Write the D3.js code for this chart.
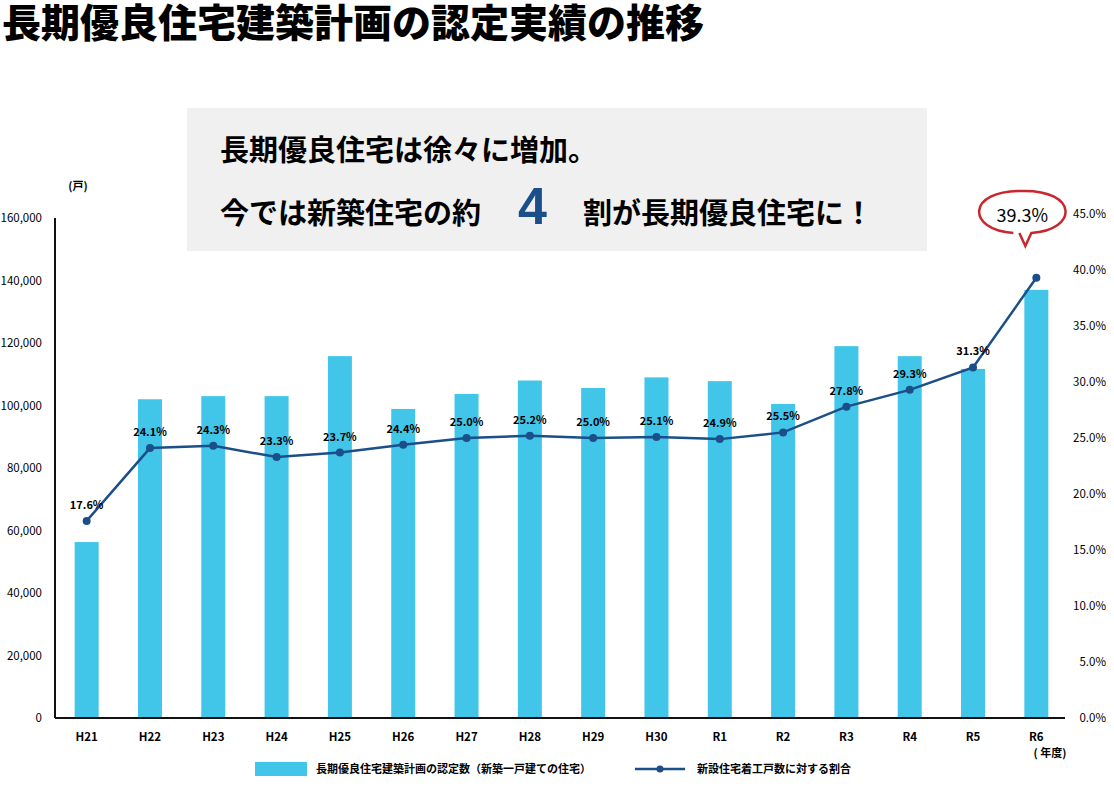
<!DOCTYPE html><html><head><meta charset="utf-8">
<script src="https://cdn.jsdelivr.net/npm/d3@7"></script>
<style>body{margin:0;background:#fff;font-family:"Noto Sans CJK JP","Noto Sans",sans-serif}</style></head><body>
<svg id="c" width="1114" height="786"></svg>
<script>
const categories=["H21","H22","H23","H24","H25","H26","H27","H28","H29","H30","R1","R2","R3","R4","R5","R6"];
const certified=[56300,102000,103000,103000,115800,98900,103700,108000,105600,109000,107800,100500,119000,115800,111700,137000];
const ratio=[17.6,24.1,24.3,23.3,23.7,24.4,25.0,25.2,25.0,25.1,24.9,25.5,27.8,29.3,31.3,39.3];
const leftTicks=[0,20000,40000,60000,80000,100000,120000,140000,160000];
const rightTicks=[0,5,10,15,20,25,30,35,40,45];
const svg=d3.select("#c");
const x=d3.scaleBand().domain(categories).range([55,1068]);
const y=d3.scaleLinear().domain([0,160000]).range([718,218]);
const y2=d3.scaleLinear().domain([0,45]).range([718,214]);
const f="Noto Sans CJK JP";
svg.append("text").attr("x",2).attr("y",37).attr("font-size",39).attr("font-weight",900).attr("font-family",f).text("長期優良住宅建築計画の認定実績の推移");
svg.append("rect").attr("x",187).attr("y",108).attr("width",740).attr("height",143).attr("fill","#f0f0f0");
svg.append("text").attr("x",220).attr("y",161).attr("font-size",29).attr("font-weight",700).attr("font-family",f).text("長期優良住宅は徐々に増加。");
const t2=svg.append("text").attr("y",224).attr("font-size",29).attr("font-weight",700).attr("font-family",f);
t2.append("tspan").attr("x",220).text("今では新築住宅の約");
t2.append("tspan").attr("x",518).attr("font-size",52).attr("fill","#1b4f8a").attr("font-family","Liberation Sans").text("4");
t2.append("tspan").attr("x",583).text("割が長期優良住宅に！");
svg.selectAll(".b").data(categories).join("rect").attr("x",d=>x(d)+x.bandwidth()/2-12).attr("width",24)
 .attr("y",(d,i)=>y(certified[i])).attr("height",(d,i)=>718-y(certified[i])).attr("fill","#41c6ea");
svg.append("line").attr("x1",55).attr("x2",55).attr("y1",218).attr("y2",718).attr("stroke","#111").attr("stroke-width",2);
svg.append("line").attr("x1",55).attr("x2",1065).attr("y1",718).attr("y2",718).attr("stroke","#111").attr("stroke-width",2);
svg.selectAll(".lt").data(leftTicks).join("text").attr("x",42).attr("y",d=>y(d)+4).attr("text-anchor","end").attr("font-size",11.5).attr("font-family",f).text(d=>d3.format(",")(d));
svg.selectAll(".rt").data(rightTicks).join("text").attr("x",1106).attr("y",d=>y2(d)+4).attr("text-anchor","end").attr("font-size",11.5).attr("font-family",f).text(d=>d.toFixed(1)+"%");
svg.selectAll(".xt").data(categories).join("text").attr("x",d=>x(d)+x.bandwidth()/2).attr("y",741).attr("text-anchor","middle").attr("font-size",11.5).attr("font-weight",700).attr("font-family",f).text(d=>d);
svg.append("text").attr("x",1050).attr("y",757).attr("text-anchor","middle").attr("font-size",11).attr("font-weight",700).attr("font-family",f).text("( 年度)");
svg.append("text").attr("x",78).attr("y",190).attr("text-anchor","middle").attr("font-size",11).attr("font-weight",700).attr("font-family",f).text("(戸)");
const cx=(d)=>x(d)+x.bandwidth()/2;
svg.append("path").datum(categories).attr("fill","none").attr("stroke","#1b4f8a").attr("stroke-width",2.5)
 .attr("d",d3.line().x(d=>cx(d)).y((d,i)=>y2(ratio[i])));
svg.selectAll(".p").data(categories).join("circle").attr("cx",cx).attr("cy",(d,i)=>y2(ratio[i])).attr("r",4).attr("fill","#1b4f8a");
svg.selectAll(".pl").data(categories.slice(0,15)).join("text").attr("x",cx).attr("y",(d,i)=>y2(ratio[i])-12).attr("text-anchor","middle").attr("font-size",11).attr("font-weight",700).attr("font-family",f).text((d,i)=>ratio[i].toFixed(1)+"%");
const bx=cx("R6")-14, by=220;
svg.append("path").attr("d",`M${bx-9},${by+13} C${bx-56},${by+10} ${bx-56},${by-30} ${bx},${by-29} C${bx+56},${by-30} ${bx+56},${by+10} ${bx+9},${by+13} L${bx+3},${by+26} L${bx-3},${by+13}`)
 .attr("fill","#fff").attr("stroke","#c8282d").attr("stroke-width",2.5);
svg.append("text").attr("x",bx).attr("y",by+2).attr("text-anchor","middle").attr("font-size",18).attr("font-family",f).text(ratio[15].toFixed(1)+"%");
svg.append("rect").attr("x",255).attr("y",762).attr("width",52).attr("height",14).attr("fill","#41c6ea");
svg.append("text").attr("x",316).attr("y",773).attr("font-size",11).attr("font-weight",700).attr("font-family",f).text("長期優良住宅建築計画の認定数（新築一戸建ての住宅）");
svg.append("line").attr("x1",635).attr("x2",685).attr("y1",769).attr("y2",769).attr("stroke","#1b4f8a").attr("stroke-width",2.5);
svg.append("circle").attr("cx",660).attr("cy",769).attr("r",3.5).attr("fill","#1b4f8a");
svg.append("text").attr("x",697).attr("y",773).attr("font-size",11).attr("font-weight",700).attr("font-family",f).text("新設住宅着工戸数に対する割合");
</script></body></html>
